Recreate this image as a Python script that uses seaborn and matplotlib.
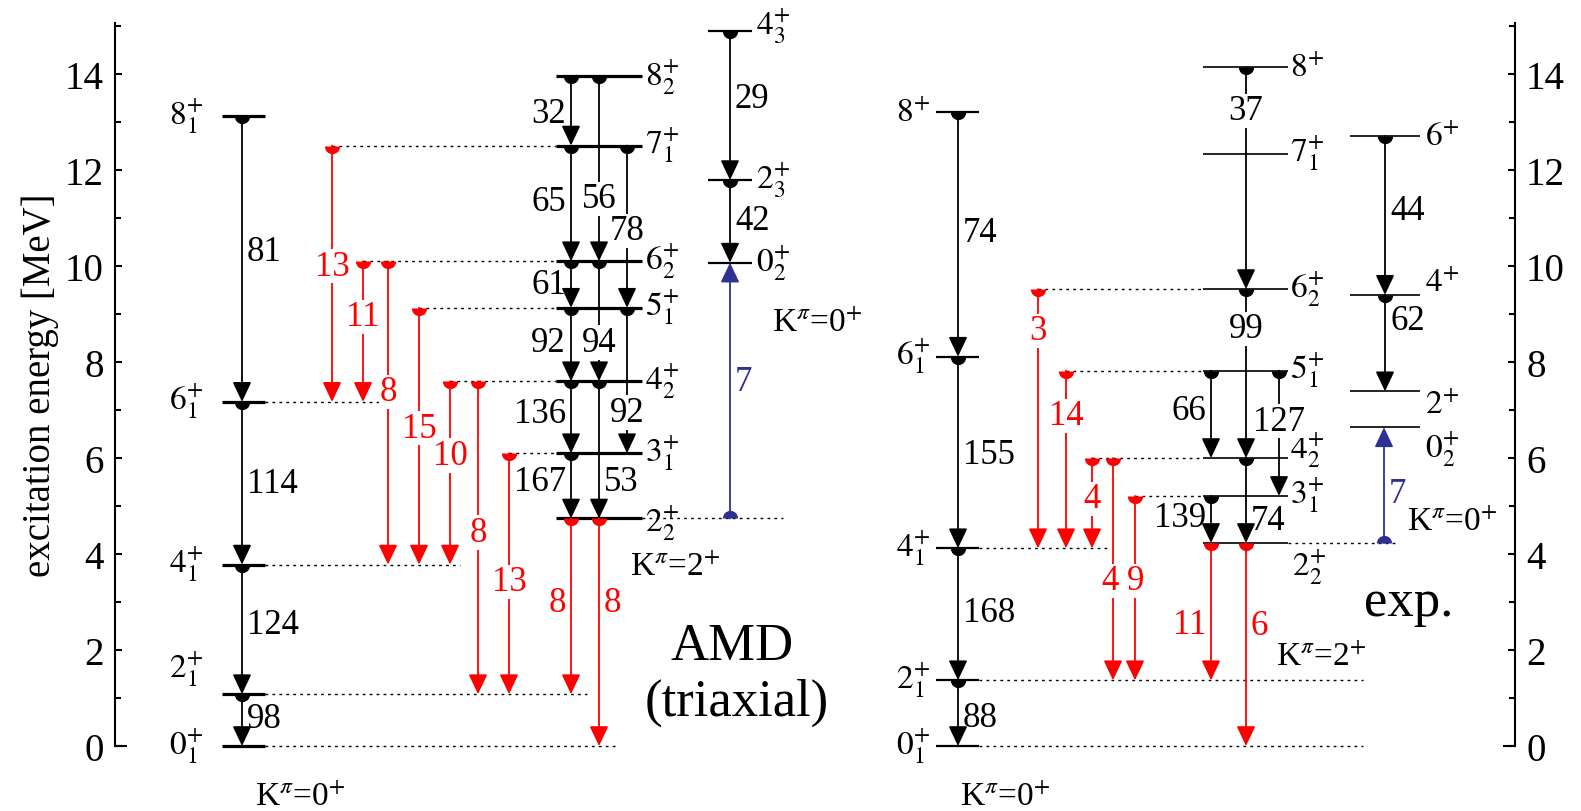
import matplotlib
matplotlib.use('Agg')
import matplotlib.pyplot as plt
import seaborn as sns
from matplotlib.ticker import MultipleLocator

# ---------------- data (energies in MeV, B(E2) values) ----------------
# AMD (triaxial)
amd_gsb_names = ['0_1', '2_1', '4_1', '6_1', '8_1']
amd_gsb_E = [0.0, 1.08, 3.78, 7.17, 13.12]
amd_gsb_BE2 = [98, 124, 114, 81]          # 2->0, 4->2, 6->4, 8->6

amd_k2_names = ['2_2', '3_1', '4_2', '5_1', '6_2', '7_1', '8_2']
amd_k2_E = [4.74, 6.10, 7.60, 9.13, 10.10, 12.51, 13.95]
amd_k2_from = ['8_2', '7_1', '6_2', '5_1', '4_2', '3_1', '8_2', '6_2', '4_2', '7_1', '5_1']
amd_k2_to = ['7_1', '6_2', '5_1', '4_2', '3_1', '2_2', '6_2', '4_2', '2_2', '5_1', '3_1']
amd_k2_BE2 = [32, 65, 61, 92, 136, 167, 56, 94, 53, 78, 92]

amd_k0_names = ['0_2', '2_3', '4_3']
amd_k0_E = [10.07, 11.79, 14.89]
amd_k0_BE2 = [42, 29]

amd_inter_from = ['7_1', '6_2', '6_2', '5_1', '4_2', '4_2', '3_1', '2_2', '2_2']
amd_inter_to = ['6_1', '6_1', '4_1', '4_1', '4_1', '2_1', '2_1', '2_1', '0_1']
amd_inter_BE2 = [13, 11, 8, 15, 10, 8, 13, 8, 8]
amd_blue_BE2 = 7

# experiment
exp_gsb_names = ['0_1', '2_1', '4_1', '6_1', '8']
exp_gsb_E = [0.0, 1.37, 4.12, 8.11, 13.2]
exp_gsb_BE2 = [88, 168, 155, 74]

exp_k2_names = ['2_2', '3_1', '4_2', '5_1', '6_2', '7_1', '8']
exp_k2_E = [4.23, 5.21, 6.00, 7.82, 9.52, 12.34, 14.14]
exp_k2_from = ['5_1', '3_1', '8', '6_2', '4_2', '5_1']
exp_k2_to = ['4_2', '2_2', '6_2', '4_2', '2_2', '3_1']
exp_k2_BE2 = [66, 139, 37, 99, 74, 127]

exp_k0_names = ['0_2', '2', '4', '6']
exp_k0_E = [6.64, 7.39, 9.40, 12.71]
exp_k0_BE2 = [62, 44]                      # 4->2, 6->4

exp_inter_from = ['6_2', '5_1', '4_2', '4_2', '3_1', '2_2', '2_2']
exp_inter_to = ['4_1', '4_1', '4_1', '2_1', '2_1', '2_1', '0_1']
exp_inter_BE2 = [3, 14, 4, 4, 9, 11, 6]
exp_blue_BE2 = 7

# ---------------- style ----------------
sns.set_theme(style='ticks')
plt.rcParams['font.family'] = ['Liberation Serif', 'DejaVu Serif']
plt.rcParams['mathtext.fontset'] = 'stix'
plt.rcParams['text.color'] = 'black'
plt.rcParams['axes.labelcolor'] = 'black'
plt.rcParams['ytick.color'] = 'black'

RED = '#ff0000'
BLUE = '#2e3192'
FS_NUM = 25
FS_LVL = 24
FS_K = 24

fig = plt.figure(figsize=(15.81, 8.12), dpi=100)
ax = fig.add_axes([115 / 1581, 65 / 812, 1400 / 1581, 723 / 812])
ax.set_xlim(115, 1515)
ax.set_ylim(0, 723 / 48)
sns.despine(ax=ax, top=True, bottom=True, left=False, right=False)
for s in ('left', 'right'):
    ax.spines[s].set_linewidth(1.5)
    ax.spines[s].set_color('black')
ax.set_xticks([])
ax.yaxis.set_major_locator(MultipleLocator(2))
ax.yaxis.set_minor_locator(MultipleLocator(1))
ax.tick_params(axis='y', which='both', direction='in', left=True, right=True,
               labelleft=True, labelright=True, labelsize=28, width=1.5,
               colors='black')
ax.tick_params(axis='y', which='major', length=5, pad=8)
ax.tick_params(axis='y', which='minor', length=4)
ax.set_ylabel('excitation energy [MeV]', fontsize=28, color='black', labelpad=4)
ax.hlines(0, 115, 127, color='black', lw=1.5, clip_on=False)
ax.hlines(0, 1503, 1515, color='black', lw=1.5, clip_on=False)


def lvl_text(name):
    p = name.split('_')
    if len(p) == 2:
        return r'$%s^{+}_{%s}$' % (p[0], p[1])
    return r'$%s^{+}$' % p[0]


def levels(E, x0, x1, lw):
    ax.hlines(E, x0, x1, color='black', lw=lw, zorder=2, clip_on=False)


def dotted(y, x0, x1):
    ax.plot([x0, x1], [y, y], color='black', lw=1.0, ls=(0, (2, 3)), zorder=1,
            clip_on=False)


def arrow(x, e0, e1, val, ly, mode, color, dx=0):
    ax.annotate('', xy=(x, e1), xytext=(x, e0),
                arrowprops=dict(arrowstyle='-|>,head_length=0.55,head_width=0.26',
                                color=color, lw=1.3, shrinkA=0, shrinkB=0,
                                mutation_scale=22), zorder=3)
    fill = 'bottom' if e1 < e0 else 'top'
    ax.plot([x], [e0], marker='o', ms=11, fillstyle=fill, color=color,
            mew=0, ls='none', zorder=4, clip_on=False)
    kw = dict(color=color, fontsize=FS_NUM, va='center', zorder=5)
    if mode == 'c':
        ax.text(x + dx, ly, str(val), ha='center',
                bbox=dict(fc='white', ec='none', pad=0.5), **kw)
    elif mode == 'l':
        ax.text(x - 5, ly, str(val), ha='right', **kw)
    else:
        ax.text(x + 5, ly, str(val), ha='left', **kw)


# ================= AMD =================
amd_g = dict(zip(amd_gsb_names, amd_gsb_E))
amd_k2 = dict(zip(amd_k2_names, amd_k2_E))
amd_k0 = dict(zip(amd_k0_names, amd_k0_E))

levels(amd_gsb_E, 222, 265, 2.3)
levels(amd_k2_E, 556, 642, 2.3)
levels(amd_k0_E, 708, 752, 1.6)

# dotted guides
for n, xe in zip(['0_1', '2_1', '4_1', '6_1'], [617, 587, 460, 395]):
    dotted(amd_g[n], 265, xe)
amd_inter_x = [332, 363, 388, 419, 450, 478, 509, 571, 599]
for n in ['7_1', '6_2', '5_1', '4_2', '3_1']:
    xs = [x for x, f in zip(amd_inter_x, amd_inter_from) if f == n]
    dotted(amd_k2[n], min(xs), 556)
dotted(amd_k2['2_2'], 642, 783)

# ground band
gsb_ly = [0.58, 2.54, 5.46, 10.3]
for i, v in enumerate(amd_gsb_BE2):
    arrow(242, amd_gsb_E[i + 1], amd_gsb_E[i], v, gsb_ly[i], 'r', 'black')
for n, e in zip(amd_gsb_names, amd_gsb_E):
    ly = e + 0.52 if n == '2_1' else e
    ax.text(203, ly, lvl_text(n), ha='right', va='center', fontsize=FS_LVL)

# K=2 band
k2_x = [571, 571, 571, 571, 571, 571, 599, 599, 599, 627, 627]
k2_ly = [13.17, 11.35, 9.62, 8.41, 6.92, 5.52, 11.4, 8.41, 5.52, 10.73, 6.95]
k2_mode = ['l', 'l', 'l', 'l', 'l', 'l', 'c', 'c', 'r', 'c', 'c']
for f, t, v, x, ly, m in zip(amd_k2_from, amd_k2_to, amd_k2_BE2, k2_x, k2_ly, k2_mode):
    arrow(x, amd_k2[f], amd_k2[t], v, ly, m, 'black')
for n, e in zip(amd_k2_names, amd_k2_E):
    ax.text(645, e - (0.1 if n == '2_2' else 0), lvl_text(n), ha='left', va='center',
            fontsize=FS_LVL)

# second K=0 band
arrow(730, amd_k0['4_3'], amd_k0['2_3'], amd_k0_BE2[1], 13.48, 'r', 'black')
arrow(730, amd_k0['2_3'], amd_k0['0_2'], amd_k0_BE2[0], 10.94, 'r', 'black')
for n, e in zip(amd_k0_names, amd_k0_E):
    ax.text(756, e + (0.12 if n == '4_3' else 0), lvl_text(n), ha='left', va='center',
            fontsize=FS_LVL)
arrow(730, amd_k2['2_2'], amd_k0['0_2'], amd_blue_BE2, 7.6, 'r', BLUE)

# inter-band
inter_ly = [10.0, 8.94, 7.38, 6.62, 6.05, 4.45, 3.42, 3.0, 3.0]
inter_mode = ['c', 'c', 'c', 'c', 'c', 'c', 'c', 'l', 'r']
for f, t, v, x, ly, m in zip(amd_inter_from, amd_inter_to, amd_inter_BE2,
                             amd_inter_x, inter_ly, inter_mode):
    arrow(x, amd_k2[f], amd_g[t], v, ly, m, RED)

ax.text(300, -1.05, r'K$^{\pi}$=0$^{+}$', ha='center', va='center', fontsize=FS_K,
        clip_on=False)
ax.text(675, 3.75, r'K$^{\pi}$=2$^{+}$', ha='center', va='center', fontsize=FS_K)
ax.text(772, 8.83, r'K$^{\pi}$=0$^{+}$', ha='left', va='center', fontsize=FS_K)
ax.text(732, 2.08, 'AMD', ha='center', va='center', fontsize=38)
ax.text(737, 0.92, '(triaxial)', ha='center', va='center', fontsize=38)

# ================= experiment =================
exp_g = dict(zip(exp_gsb_names, exp_gsb_E))
exp_k2 = dict(zip(exp_k2_names, exp_k2_E))
exp_k0 = dict(zip(exp_k0_names, exp_k0_E))

levels(exp_gsb_E, 936, 979, 1.6)
levels(exp_k2_E, 1203, 1288, 1.2)
levels(exp_k0_E, 1350, 1420, 1.2)

for n, xe in zip(['0_1', '2_1', '4_1'], [1363, 1363, 1107]):
    dotted(exp_g[n], 979, xe)
exp_inter_x = [1038, 1066, 1092, 1113, 1135, 1211, 1246]
for n in ['6_2', '5_1', '4_2', '3_1']:
    xs = [x for x, f in zip(exp_inter_x, exp_inter_from) if f == n]
    dotted(exp_k2[n], min(xs), 1203)
dotted(exp_k2['2_2'], 1288, 1398)

egsb_ly = [0.6, 2.79, 6.08, 10.7]
for i, v in enumerate(exp_gsb_BE2):
    arrow(958, exp_gsb_E[i + 1], exp_gsb_E[i], v, egsb_ly[i], 'r', 'black')
for n, e in zip(exp_gsb_names, exp_gsb_E):
    ax.text(930, e, lvl_text(n), ha='right', va='center', fontsize=FS_LVL)

ek2_x = [1211, 1211, 1246, 1246, 1246, 1279]
ek2_ly = [6.98, 4.77, 13.23, 8.69, 4.69, 6.77]
ek2_mode = ['l', 'l', 'c', 'c', 'r', 'c']
for f, t, v, x, ly, m in zip(exp_k2_from, exp_k2_to, exp_k2_BE2, ek2_x, ek2_ly, ek2_mode):
    arrow(x, exp_k2[f], exp_k2[t], v, ly, m, 'black')
for n, e in zip(exp_k2_names, exp_k2_E):
    if n == '2_2':
        ax.text(1292, 3.73, lvl_text(n), ha='left', va='center', fontsize=FS_LVL)
    else:
        ax.text(1290, e + (0.18 if n == '4_2' else 0), lvl_text(n), ha='left',
                va='center', fontsize=FS_LVL)

arrow(1385, exp_k0['6'], exp_k0['4'], exp_k0_BE2[1], 11.15, 'r', 'black')
arrow(1385, exp_k0['4'], exp_k0['2'], exp_k0_BE2[0], 8.86, 'r', 'black')
k0_lab_y = {'6': 0.0, '4': 0.25, '2': -0.28, '0_2': -0.45}
for n, e in zip(exp_k0_names, exp_k0_E):
    ax.text(1425, e + k0_lab_y[n], lvl_text(n), ha='left', va='center', fontsize=FS_LVL)
arrow(1384, exp_k2['2_2'], exp_k0['0_2'], exp_blue_BE2, 5.25, 'r', BLUE)

einter_ly = [8.65, 6.88, 5.15, 3.44, 3.44, 2.54, 2.5]
einter_mode = ['c', 'c', 'c', 'c', 'c', 'l', 'r']
einter_dx = [0, 0, 0, -3, 1, 0, 0]
for f, t, v, x, ly, m, d in zip(exp_inter_from, exp_inter_to, exp_inter_BE2,
                                exp_inter_x, einter_ly, einter_mode, einter_dx):
    arrow(x, exp_k2[f], exp_g[t], v, ly, m, RED, dx=d)

ax.text(1005, -1.05, r'K$^{\pi}$=0$^{+}$', ha='center', va='center', fontsize=FS_K,
        clip_on=False)
ax.text(1321, 1.87, r'K$^{\pi}$=2$^{+}$', ha='center', va='center', fontsize=FS_K)
ax.text(1452, 4.67, r'K$^{\pi}$=0$^{+}$', ha='center', va='center', fontsize=FS_K)
ax.text(1409, 3.0, 'exp.', ha='center', va='center', fontsize=38)

fig.savefig('out.png', dpi=100, facecolor='white')
